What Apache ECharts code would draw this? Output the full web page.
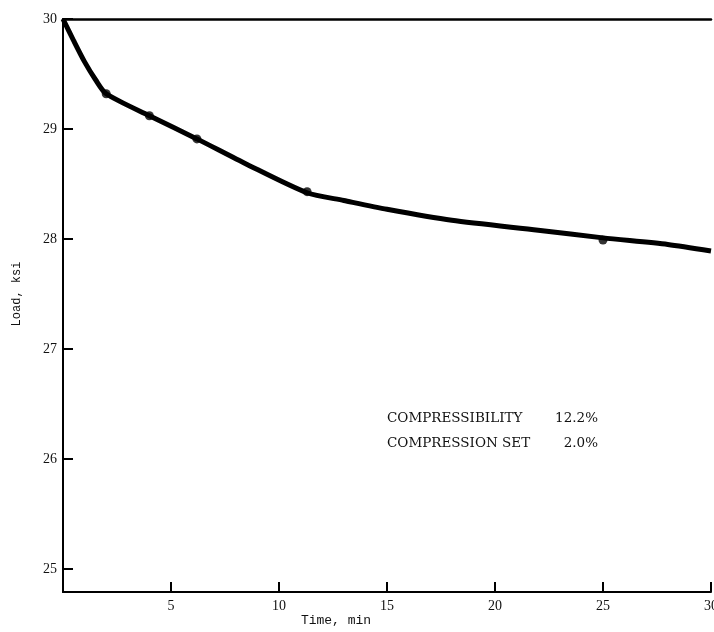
<!DOCTYPE html>
<html>
<head>
<meta charset="utf-8">
<script src="https://cdn.jsdelivr.net/npm/echarts@6/dist/echarts.min.js"></script>
<style>html,body{margin:0;padding:0;background:#fff}#c{width:714px;height:632px}</style>
</head>
<body>
<div id="c"></div>
<script>
// Curve (time in min, load in ksi)
var curveTime = [0, 0.5, 1, 1.5, 2, 4, 6.2, 8.5, 11.3, 13, 15, 18, 22, 25, 28, 30];
var curveLoad = [30, 29.8, 29.61, 29.45, 29.32, 29.12, 28.91, 28.68, 28.42, 28.35, 28.27, 28.17, 28.08, 28.01, 27.95, 27.89];
// Plotted data points
var pointTime = [2, 4, 6.2, 11.3, 25];
var pointLoad = [29.32, 29.12, 28.91, 28.43, 27.99];
// Tick labels
var yTicks = [25, 26, 27, 28, 29, 30];
var xTicks = [5, 10, 15, 20, 25, 30];
var notes = [['COMPRESSIBILITY', '12.2%'], ['COMPRESSION SET', '2.0%']];
var xName = 'Time, min';
var yName = 'Load, ksi';

var curve = curveTime.map(function (t, i) { return [t, curveLoad[i]]; });
var pts = pointTime.map(function (t, i) { return [t, pointLoad[i]]; });

var serif = 'Liberation Serif';
var mono = 'Liberation Mono';
function noteStyle(text, align) {
  return { text: text, font: '13.5px "DejaVu Serif", serif', fill: '#111', align: align, verticalAlign: 'middle' };
}

var chart = echarts.init(document.getElementById('c'));
chart.setOption({
  animation: false,
  backgroundColor: '#fff',
  grid: { left: 63, right: 3, top: 19, bottom: 40, containLabel: false, outerBoundsMode: 'none' },
  xAxis: [{
    type: 'value', min: 0, max: 30, interval: 5,
    axisLine: { show: true, lineStyle: { color: '#000', width: 2 } },
    axisTick: { show: true, inside: true, length: 10, lineStyle: { color: '#000', width: 2 }, customValues: xTicks },
    axisLabel: { customValues: xTicks, fontFamily: serif, fontSize: 14, color: '#111', margin: 7 },
    splitLine: { show: false }
  }, {
    type: 'value', min: 0, max: 30, position: 'top',
    axisLine: { show: true, lineStyle: { color: '#000', width: 2.5 } },
    axisTick: { show: false }, axisLabel: { show: false }, splitLine: { show: false }
  }],
  yAxis: [{
    type: 'value', min: 24.79, max: 30,
    axisLine: { show: true, lineStyle: { color: '#000', width: 2 } },
    axisTick: { show: true, inside: true, length: 10, lineStyle: { color: '#000', width: 2 }, customValues: yTicks },
    axisLabel: { customValues: yTicks, fontFamily: serif, fontSize: 14, color: '#111', margin: 6 },
    splitLine: { show: false }
  }, {
    type: 'value', min: 24.79, max: 30, position: 'right',
    axisLine: { show: true, lineStyle: { color: '#000', width: 1.5 } },
    axisTick: { show: false }, axisLabel: { show: false }, splitLine: { show: false }
  }],
  series: [{
    type: 'line', data: curve, smooth: 0.25, showSymbol: false,
    lineStyle: { color: '#000', width: 5 }, z: 2
  }, {
    type: 'scatter', data: pts, symbolSize: 9,
    itemStyle: { color: '#000' }, z: 3
  }],
  graphic: [{
    type: 'text', x: 336, y: 621,
    style: { text: xName, fontFamily: mono, fontSize: 13, fill: '#111', align: 'center', verticalAlign: 'middle' }
  }, {
    type: 'text', x: 17, y: 294, rotation: Math.PI / 2,
    style: { text: yName, fontFamily: mono, fontSize: 12, fill: '#111', align: 'center', verticalAlign: 'middle' }
  }, {
    type: 'text', x: 387, y: 418, style: noteStyle(notes[0][0], 'left')
  }, {
    type: 'text', x: 598, y: 418, style: noteStyle(notes[0][1], 'right')
  }, {
    type: 'text', x: 387, y: 443, style: noteStyle(notes[1][0], 'left')
  }, {
    type: 'text', x: 598, y: 443, style: noteStyle(notes[1][1], 'right')
  }]
});
</script>
</body>
</html>
